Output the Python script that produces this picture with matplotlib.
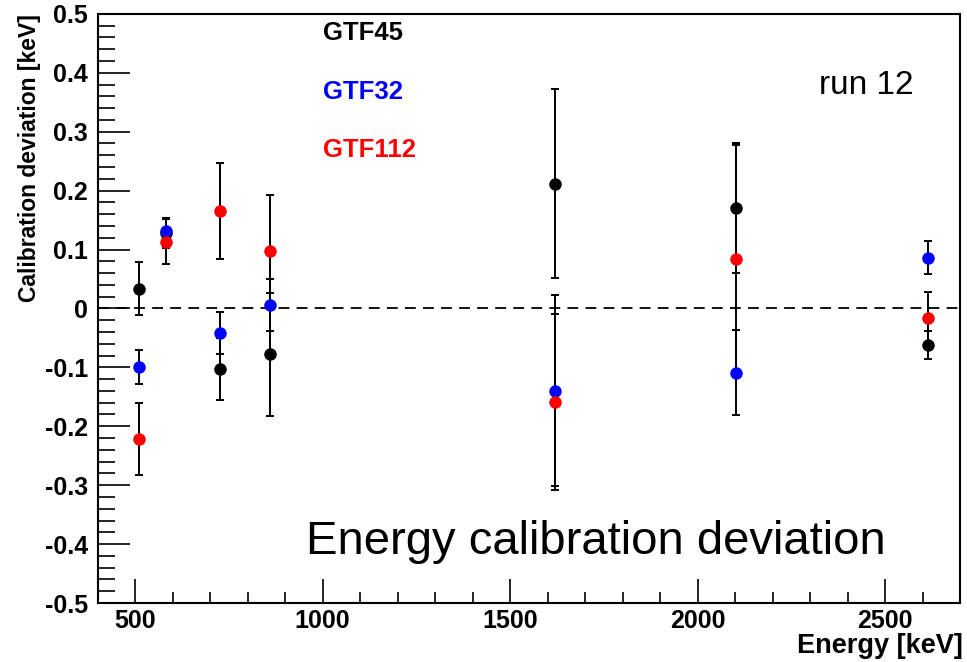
import matplotlib
matplotlib.use("Agg")
import matplotlib.pyplot as plt
import numpy as np

plt.rcParams["font.family"] = ["Liberation Sans", "DejaVu Sans"]

# ---------------------------------------------------------------------------
# data: calibration lines (keV) and deviations per detector
# ---------------------------------------------------------------------------
energy = [511, 583, 727, 860, 1620, 2103, 2614]

gtf45_dev = [0.033, 0.128, -0.103, -0.078, 0.212, 0.170, -0.062]
gtf45_err = [0.045, 0.025, 0.053, 0.105, 0.161, 0.110, 0.023]

gtf32_dev = [-0.100, 0.131, -0.042, 0.006, -0.140, -0.109, 0.086]
gtf32_err = [0.029, 0.022, 0.036, 0.044, 0.162, 0.072, 0.028]

gtf112_dev = [-0.221, 0.113, 0.165, 0.098, -0.159, 0.084, -0.016]
gtf112_err = [0.061, 0.038, 0.081, 0.095, 0.149, 0.194, 0.044]

series = [
    ("GTF45", gtf45_dev, gtf45_err, "black"),
    ("GTF32", gtf32_dev, gtf32_err, "#0000ff"),
    ("GTF112", gtf112_dev, gtf112_err, "#ff0000"),
]

# ---------------------------------------------------------------------------
fig = plt.figure(figsize=(9.67, 6.62), dpi=100)
ax = fig.add_axes([0.101, 0.0891, 0.892, 0.890])

ax.axhline(0, color="black", lw=1.3, dashes=(6, 4), zorder=1)

for name, dev, err, col in series:
    _, caps, _ = ax.errorbar(energy, dev, yerr=err, fmt="o", color=col,
                             ecolor="black", markersize=9, elinewidth=1.4,
                             capsize=3, capthick=1.4, markeredgewidth=0,
                             zorder=3)
    for c in caps:
        c.set_markeredgewidth(1.4)

ax.set_xlim(400, 2700)
ax.set_ylim(-0.5, 0.5)

ax.set_xticks(np.arange(500, 2501, 500))
ax.set_xticks(np.arange(400, 2701, 100), minor=True)
ax.set_yticks(np.arange(-0.5, 0.51, 0.1))
ax.set_yticks(np.arange(-0.5, 0.501, 0.02), minor=True)
ax.set_yticklabels(["-0.5", "-0.4", "-0.3", "-0.2", "-0.1", "0",
                    "0.1", "0.2", "0.3", "0.4", "0.5"])

ax.tick_params(axis="both", which="both", direction="in", top=False, right=False,
               labelsize=18, width=1.2)
ax.tick_params(axis="y", which="major", length=23, pad=7)
ax.tick_params(axis="y", which="minor", length=12)
ax.tick_params(axis="x", which="major", length=17, pad=4)
ax.tick_params(axis="x", which="minor", length=8)
for lab in ax.get_xticklabels() + ax.get_yticklabels():
    lab.set_fontweight("bold")

for sp in ax.spines.values():
    sp.set_linewidth(1.5)

ax.set_ylabel("Calibration deviation [keV]", fontsize=16.5, fontweight="bold")
ax.yaxis.set_label_coords(-0.066, 1.0)
ax.yaxis.label.set_horizontalalignment("right")

fig.text(0.996, 0.004, "Energy [keV]", fontsize=19.5, fontweight="bold",
         ha="right", va="bottom")

for (name, dev, err, col), ypos in zip(series, [0.468, 0.368, 0.269]):
    ax.text(1000, ypos, name, color=col, fontsize=18.5, fontweight="bold",
            ha="left", va="center")

ax.text(2324, 0.379, "run 12", fontsize=24, ha="left", va="center")
ax.text(955, -0.4168, "Energy calibration deviation", fontsize=34,
        ha="left", va="baseline")

fig.savefig("out.png", dpi=100)
